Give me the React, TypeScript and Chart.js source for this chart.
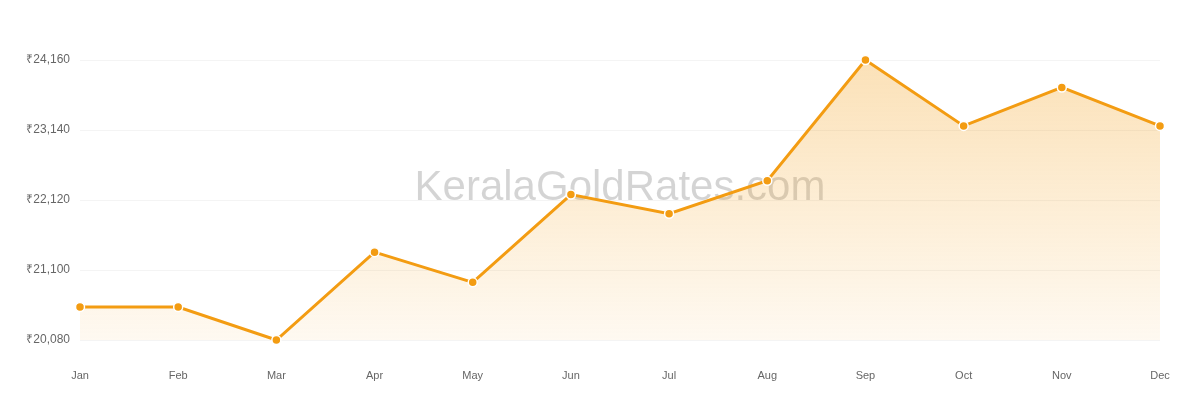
import { useEffect, useRef } from 'react'
import { Chart, registerables } from 'chart.js'

Chart.register(...registerables)

// ── DATA ───────────────────────────────────────────────────────────────────
const months = ['Jan','Feb','Mar','Apr','May','Jun','Jul','Aug','Sep','Oct','Nov','Dec']
const rates  = [20560, 20560, 20080, 21360, 20920, 22200, 21920, 22400, 24160, 23200, 23760, 23200]
const yMin   = 20080
const yMax   = 24160
const yStep  = 1020
const watermark = 'KeralaGoldRates.com'

const ORANGE = '#f39c12'
const FONT   = '"Liberation Sans", Arial, sans-serif'

const watermarkPlugin = {
  id: 'watermark',
  beforeDatasetsDraw(chart: Chart) {
    const { ctx, chartArea: a } = chart
    ctx.save()
    ctx.font = `42px ${FONT}`
    ctx.fillStyle = 'rgba(0,0,0,0.17)'
    ctx.textAlign = 'center'
    ctx.textBaseline = 'alphabetic'
    ctx.fillText(watermark, (a.left + a.right) / 2, (a.top + a.bottom) / 2)
    ctx.restore()
  },
}

if (typeof document !== 'undefined') document.body.style.margin = '0'

export default function App() {
  const ref   = useRef<HTMLCanvasElement>(null)
  const chart = useRef<Chart|null>(null)

  useEffect(() => {
    if (!ref.current) return
    chart.current?.destroy()
    chart.current = new Chart(ref.current, {
      type:'line',
      data:{
        labels: months,
        datasets:[{
          data: rates,
          clip: false,
          borderColor: ORANGE,
          borderWidth: 3,
          tension: 0,
          fill: 'start',
          backgroundColor: (c: any) => {
            const a = c.chart.chartArea
            if (!a) return 'rgba(243,156,18,0.15)'
            const g = c.chart.ctx.createLinearGradient(0, a.top, 0, a.bottom)
            g.addColorStop(0, 'rgba(243,156,18,0.30)')
            g.addColorStop(1, 'rgba(243,156,18,0.06)')
            return g
          },
          pointRadius: 4.5,
          pointBackgroundColor: ORANGE,
          pointBorderColor: '#fff',
          pointBorderWidth: 1.5,
        }],
      },
      options:{
        responsive:false, animation:false,
        layout:{ padding:{ top:60, right:40, bottom:18, left:0 } },
        plugins:{ legend:{ display:false }, tooltip:{ enabled:false } },
        scales:{
          x:{
            afterFit: (s: any) => { s.height = 42 },
            grid:{ display:false, drawTicks:false }, border:{ display:false },
            ticks:{ color:'#666', padding:29, maxRotation:0, autoSkip:false,
              font:{ size:11, family:FONT } },
          },
          y:{
            min:yMin, max:yMax,
            afterFit: (s: any) => { s.width = 80 },
            grid:{ color:'#f4f4f4', drawTicks:false }, border:{ display:false },
            ticks:{ stepSize:yStep, color:'#666', padding:10,
              font:{ size:12, family:FONT },
              callback: v => '₹' + Number(v).toLocaleString('en-US') },
          },
        },
      },
      plugins:[watermarkPlugin],
    })
    return () => { chart.current?.destroy() }
  }, [])

  return (
    <div style={{ width:1200, height:400, background:'#fff' }}>
      <canvas ref={ref} width={1200} height={400} style={{ display:'block', width:1200, height:400 }} />
    </div>
  )
}
